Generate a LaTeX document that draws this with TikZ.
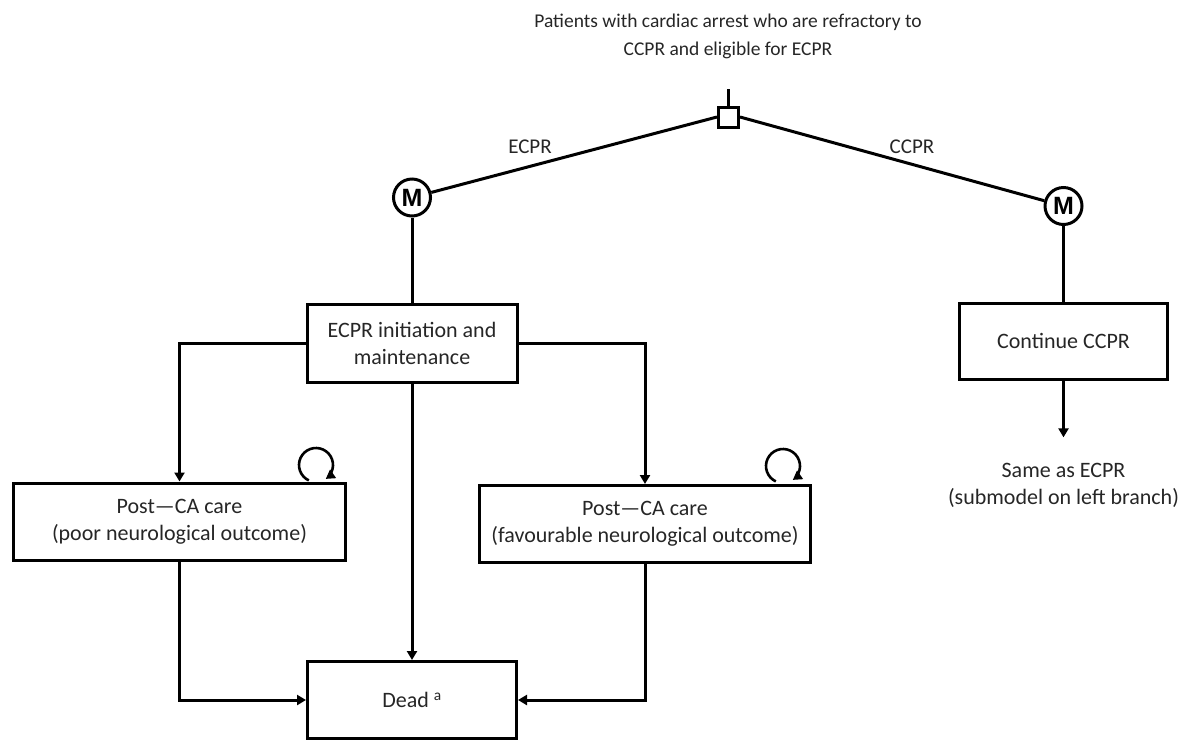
\documentclass[tikz,border=0pt]{standalone}
\usepackage{fontspec}
\setmainfont{Carlito}
\newfontfamily\mfont{Liberation Sans}
\usetikzlibrary{arrows.meta}
\begin{document}
\begin{tikzpicture}[x=1pt,y=-1pt, line width=3pt,
  txt/.style={align=center, inner sep=0pt, text=black!85, font=\fontsize{22}{27}\selectfont},
  box/.style={draw, rectangle, inner sep=0pt, align=center, text=black!85, font=\fontsize{22}{27}\selectfont},
  mnode/.style={draw, circle, minimum size=37pt, inner sep=0pt, font=\mfont\bfseries\fontsize{25}{25}\selectfont},
  arr/.style={-{Triangle[length=9pt,width=10pt]}}]
\useasboundingbox (0,0) rectangle (1183,740);
\node[txt, font=\fontsize{19.5}{28}\selectfont] (top) at (728,36) {Patients with cardiac arrest who are refractory to\\CCPR and eligible for ECPR};
\node[draw, minimum size=20pt, inner sep=0pt] (sq) at (728.5,117) {};
\coordinate (topend) at (728.5,89);
\node[mnode] (mL) at (412,197.5) {M};
\node[mnode] (mR) at (1063.5,206) {M};
\node[txt, font=\fontsize{21}{24}\selectfont] (lblE) at (530,147) {ECPR};
\node[txt, font=\fontsize{21}{24}\selectfont] (lblC) at (912,147) {CCPR};
\node[box, minimum width=210pt, minimum height=78pt] (ecpr) at (412,343) {ECPR initiation and\\maintenance};
\node[box, minimum width=208pt, minimum height=76pt] (ccpr) at (1063.5,341) {Continue CCPR};
\node[txt, inner ysep=24pt] (same) at (1063.5,485) {Same as ECPR\\(submodel on left branch)};
\node[box, minimum width=332pt, minimum height=77pt] (postL) at (179.5,521.5) {Post—CA care\\(poor neurological outcome)};
\node[box, minimum width=331pt, minimum height=77pt] (postR) at (645,524) {Post—CA care\\(favourable neurological outcome)};
\node[box, minimum width=209pt, minimum height=77pt] (dead) at (412,700) {Dead \textsuperscript{a}};
\coordinate (loopL) at (316,465);
\coordinate (loopR) at (783,466);
\draw (topend) -- (sq);
\draw (sq.west) -- (mL);
\draw (sq.east) -- (mR);
\draw (mL) -- (ecpr);
\draw (mR) -- (ccpr);
\draw[arr] (ccpr) -- (same);
\draw[arr] (ecpr.west) -| (postL.north);
\draw[arr] (ecpr.east) -| (postR.north);
\draw[arr] (ecpr) -- (dead);
\draw[arr] (postL.south) |- (dead.west);
\draw[arr] (postR.south) |- (dead.east);
\draw[arr, line width=2.6pt] ([shift={(115:17)}]loopL) arc[start angle=115, end angle=415, radius=17];
\draw[arr, line width=2.6pt] ([shift={(115:17)}]loopR) arc[start angle=115, end angle=415, radius=17];
\end{tikzpicture}
\end{document}
